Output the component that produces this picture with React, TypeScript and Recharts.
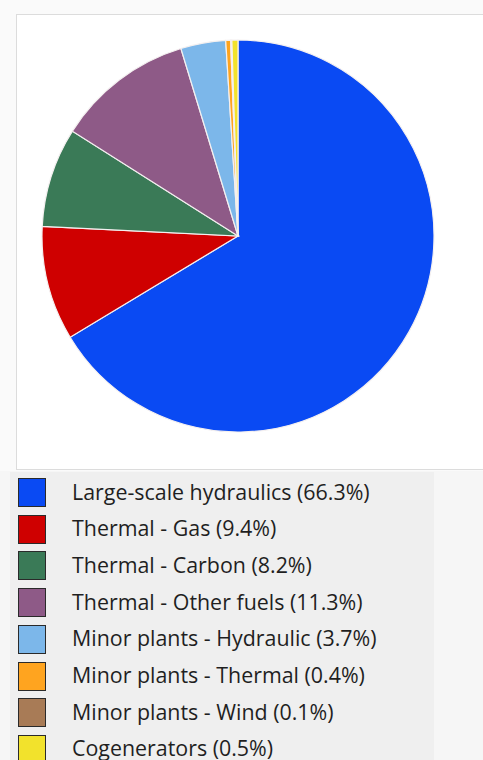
import { Cell, Pie, PieChart } from "recharts";

// Installed capacity share by source, percent
const SOURCES = [
  "Large-scale hydraulics",
  "Thermal - Gas",
  "Thermal - Carbon",
  "Thermal - Other fuels",
  "Minor plants - Hydraulic",
  "Minor plants - Thermal",
  "Minor plants - Wind",
  "Cogenerators",
];
const SHARES = [66.3, 9.4, 8.2, 11.3, 3.7, 0.4, 0.1, 0.5];
const COLORS = [
  "#0a4af3",
  "#cf0000",
  "#3a7a57",
  "#8e5a87",
  "#7cb7ea",
  "#ffa41f",
  "#a87b56",
  "#f2e22c",
];

const pieData = SOURCES.map((name, i) => ({ name, value: SHARES[i] }));

const FONT = "'Open Sans', sans-serif";
const ROW_TOP = 478;
const ROW_STEP = 36.7;

export default function App() {
  return (
    <div
      style={{
        position: "absolute",
        left: 0,
        top: 0,
        width: 483,
        height: 760,
        overflow: "hidden",
        background: "#fafafa",
        fontFamily: FONT,
      }}
    >
      <div
        style={{
          position: "absolute",
          left: 16,
          top: 14,
          width: 480,
          height: 454,
          background: "#fff",
          border: "1px solid #dcdcdc",
        }}
      >
        {/* pie offsets are measured from inside the default 5px chart margin */}
        <PieChart width={480} height={454}>
          <Pie
            data={pieData}
            dataKey="value"
            nameKey="name"
            cx={216}
            cy={216}
            outerRadius={196}
            startAngle={90}
            endAngle={-270}
            stroke="#f4f0f0"
            strokeWidth={1.2}
            isAnimationActive={false}
          >
            {pieData.map((d, i) => (
              <Cell key={d.name} fill={COLORS[i]} />
            ))}
          </Pie>
        </PieChart>
      </div>

      {/* legend panel */}
      <div
        style={{
          position: "absolute",
          left: 0,
          top: 471,
          width: 483,
          height: 289,
          background: "#f6f6f6",
        }}
      />
      <div
        style={{
          position: "absolute",
          left: 10,
          top: 472,
          width: 424,
          height: 288,
          background: "#efefef",
        }}
      />
      {SOURCES.map((name, i) => (
        <div key={name}>
          <div
            style={{
              position: "absolute",
              left: 18,
              top: ROW_TOP + i * ROW_STEP,
              width: 26,
              height: 27,
              background: COLORS[i],
              border: "1.5px solid #2a2a2a",
            }}
          />
          <div
            style={{
              position: "absolute",
              left: 72,
              top: ROW_TOP + i * ROW_STEP - 1.5,
              height: 30,
              lineHeight: "30px",
              fontSize: 21.4,
              color: "#1f1f1f",
              whiteSpace: "nowrap",
            }}
          >
            {`${name} (${SHARES[i]}%)`}
          </div>
        </div>
      ))}
    </div>
  );
}
